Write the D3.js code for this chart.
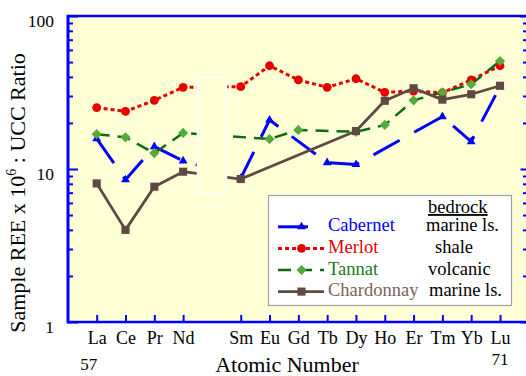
<!DOCTYPE html>
<html>
<head>
<meta charset="utf-8">
<script src="https://cdn.jsdelivr.net/npm/d3@7/dist/d3.min.js"></script>
<style>
  html, body { margin: 0; padding: 0; background: #ffffff; }
  svg { display: block; }
  svg text { font-family: "Liberation Serif", "Times New Roman", Times, Tinos, "DejaVu Serif", "Noto Serif", serif; }
</style>
</head>
<body>
<svg id="chart" width="526" height="376"></svg>
<script>
// Rare earth elements (Pm, 61, is not measured)
const elements = ["La", "Ce", "Pr", "Nd", "Sm", "Eu", "Gd", "Tb", "Dy", "Ho", "Er", "Tm", "Yb", "Lu"];
const atomicNumbers = [57, 58, 59, 60, 62, 63, 64, 65, 66, 67, 68, 69, 70, 71];

// Sample REE x 10^6 : UCC ratio for each wine (null = not reported)
const cabernet   = [15.8, 8.5, 14.0, 11.3, 8.7, 20.9, null, 11.0, 10.7, null, null, 22.0, 15.1, 34.5];
const merlot     = [25.2, 23.8, 28.1, 34.2, 34.5, 47.3, 38.2, 34.2, 38.9, 31.7, 32.3, 31.5, 38.2, 47.3];
const tannat     = [16.9, 16.1, 12.7, 17.2, null, 15.7, 18.0, null, 17.5, 19.4, 28.1, 31.7, 35.8, 50.8];
const chardonnay = [8.05, 4.0, 7.66, 9.6, 8.6, null, null, null, 17.7, 27.9, 33.7, 28.4, 30.8, 35.0];

const seriesNames = ["Cabernet", "Merlot", "Tannat", "Chardonnay"];
const bedrock = ["marine ls.", "shale", "volcanic", "marine ls."];

const yMajorTicks = [1, 10, 100];
const yMinorTicks = [2, 3, 4, 5, 6, 7, 8, 9, 20, 30, 40, 50, 60, 70, 80, 90];

// Plot frame
const frame = { left: 68, right: 527, top: 16, bottom: 322 };
const axisBlue = "#0000ff";
const plotBg = "#ffffd6";
const serif = '"Liberation Serif", "Times New Roman", Times, Tinos, "DejaVu Serif", serif';

const svg = d3.select("#chart");

const x = d3.scaleLinear().domain([57, 71]).range([96.7, 500]);
const y = d3.scaleLog().domain([1, 100]).range([frame.bottom, frame.top]);

// Plot background
svg.append("rect")
  .attr("x", frame.left).attr("y", frame.top)
  .attr("width", frame.right - frame.left)
  .attr("height", frame.bottom - frame.top)
  .attr("fill", plotBg);

// Styles per series
const styles = [
  { name: "Cabernet",   values: cabernet,   line: "#0000ff", width: 3,   dash: "30,16.5", symbol: "triangle", fill: "#0000ff", text: "#0000ff" },
  { name: "Merlot",     values: merlot,     line: "#e60000", width: 3,   dash: "4,3",     symbol: "circle",   fill: "#e60000", text: "#e60000" },
  { name: "Tannat",     values: tannat,     line: "#0c6a14", width: 2.5, dash: "13,8",    symbol: "diamond",  fill: "#55ab3a", text: "#1b7a1b" },
  { name: "Chardonnay", values: chardonnay, line: "#5e4943", width: 2.8, dash: null,      symbol: "square",   fill: "#5e4943", text: "#7a625b" }
];

function symbolPath(kind) {
  if (kind === "triangle") return d3.symbol(d3.symbolTriangle, 34)();
  if (kind === "circle") return d3.symbol(d3.symbolCircle, Math.PI * 4.4 * 4.4)();
  if (kind === "diamond") return d3.symbol(d3.symbolSquare, 52)();
  return d3.symbol(d3.symbolSquare, 66)();
}
function symbolTransform(kind, px, py) {
  return kind === "diamond" ? `translate(${px},${py}) rotate(45)` : `translate(${px},${py})`;
}

const line = d3.line().x(d => x(d.z)).y(d => y(d.v));

const seriesData = styles.map(s => ({
  ...s,
  points: s.values.map((v, i) => ({ z: atomicNumbers[i], v })).filter(d => d.v != null)
}));

// Lines
const linesG = svg.append("g");
seriesData.forEach(s => {
  linesG.append("path")
    .datum(s.points)
    .attr("d", line)
    .attr("fill", "none")
    .attr("stroke", s.line)
    .attr("stroke-width", s.width)
    .attr("stroke-dasharray", s.dash)
    .attr("stroke-linejoin", "round");
});

// Box marking the missing Pm position
svg.append("rect")
  .attr("x", x(61) - 14.5).attr("y", y(40))
  .attr("width", 29).attr("height", y(7) - y(40))
  .attr("fill", plotBg)
  .attr("stroke", "#ffffff").attr("stroke-width", 1.6);

// Markers
seriesData.forEach(s => {
  svg.append("g").selectAll("path")
    .data(s.points)
    .join("path")
    .attr("d", symbolPath(s.symbol))
    .attr("transform", d => symbolTransform(s.symbol, x(d.z), y(d.v)))
    .attr("fill", s.fill);
});

// Y axis (left): ticks pointing inward
const yAxisMajor = d3.axisLeft(y).tickValues(yMajorTicks).tickSize(-10).tickPadding(14)
  .tickFormat(d3.format("d"));
const gyL = svg.append("g").attr("transform", `translate(${frame.left},0)`).call(yAxisMajor);
gyL.attr("font-family", serif);
gyL.select(".domain").remove();
gyL.selectAll(".tick line").attr("stroke", axisBlue).attr("stroke-width", 2);
gyL.selectAll(".tick text").attr("font-size", 17.5).attr("fill", "#000").attr("dy", "0.6em");

const gyLm = svg.append("g").attr("transform", `translate(${frame.left},0)`)
  .call(d3.axisLeft(y).tickValues(yMinorTicks).tickSize(-5).tickFormat(""));
gyLm.select(".domain").remove();
gyLm.selectAll(".tick line").attr("stroke", axisBlue).attr("stroke-width", 2);

// Right side ticks
const gyR = svg.append("g").attr("transform", `translate(${frame.right},0)`)
  .call(d3.axisRight(y).tickValues(yMajorTicks).tickSize(-6.5).tickFormat(""));
gyR.select(".domain").remove();
gyR.selectAll(".tick line").attr("stroke", axisBlue).attr("stroke-width", 2);
const gyRm = svg.append("g").attr("transform", `translate(${frame.right},0)`)
  .call(d3.axisRight(y).tickValues(yMinorTicks).tickSize(-4).tickFormat(""));
gyRm.select(".domain").remove();
gyRm.selectAll(".tick line").attr("stroke", axisBlue).attr("stroke-width", 2);

// X axis: element symbols
const xAxis = d3.axisBottom(x).tickValues(atomicNumbers).tickSize(-7).tickPadding(9.5)
  .tickFormat((d, i) => elements[i]);
const gx = svg.append("g").attr("transform", `translate(0,${frame.bottom})`).call(xAxis);
gx.attr("font-family", serif);
gx.select(".domain").remove();
gx.selectAll(".tick line").attr("stroke", axisBlue).attr("stroke-width", 2);
gx.selectAll(".tick text").attr("font-size", 18).attr("fill", "#000");

// Frame lines
svg.append("line").attr("x1", frame.left).attr("x2", frame.right)
  .attr("y1", frame.top).attr("y2", frame.top)
  .attr("stroke", axisBlue).attr("stroke-width", 2.5);
svg.append("line").attr("x1", frame.left - 1).attr("x2", frame.right)
  .attr("y1", frame.bottom).attr("y2", frame.bottom)
  .attr("stroke", axisBlue).attr("stroke-width", 2.5);
svg.append("line").attr("x1", frame.left).attr("x2", frame.left)
  .attr("y1", frame.top - 1.2).attr("y2", frame.bottom + 1.2)
  .attr("stroke", axisBlue).attr("stroke-width", 3);

// Atomic number range labels
svg.append("text").attr("x", x(57) - 8).attr("y", 369.5)
  .attr("text-anchor", "middle").attr("font-size", 17).text("57");
svg.append("text").attr("x", x(71)).attr("y", 364.5)
  .attr("text-anchor", "middle").attr("font-size", 17).text("71");

// Axis titles
svg.append("text").attr("x", 287).attr("y", 371.5)
  .attr("text-anchor", "middle").attr("font-size", 22).text("Atomic Number");

const yTitle = svg.append("text")
  .attr("transform", "translate(25,193) rotate(-90)")
  .attr("text-anchor", "middle").attr("font-size", 22);
yTitle.append("tspan").text("Sample REE x 10");
yTitle.append("tspan").attr("font-size", 14).attr("dy", -9).text("6");
yTitle.append("tspan").attr("dy", 9).text(" : UCC Ratio");

// Legend
const legend = svg.append("g");
legend.append("rect")
  .attr("x", 268.5).attr("y", 195.5).attr("width", 243).attr("height", 110)
  .attr("fill", "#ffffff").attr("stroke", "#a0a0a0").attr("stroke-width", 1.2);

legend.append("text").attr("x", 428).attr("y", 213)
  .attr("font-size", 18.5).attr("text-decoration", "underline").text("bedrock");

const rowY = [226.8, 248.4, 270.0, 291.6];
const bedrockX = [426, 435, 428, 429];
seriesData.forEach((s, i) => {
  const ly = rowY[i];
  legend.append("line")
    .attr("x1", 278).attr("x2", 324).attr("y1", ly).attr("y2", ly)
    .attr("stroke", s.line).attr("stroke-width", s.width)
    .attr("stroke-dasharray", s.dash);
  legend.append("path")
    .attr("d", symbolPath(s.symbol))
    .attr("transform", symbolTransform(s.symbol, 301.5, ly))
    .attr("fill", s.fill);
  legend.append("text").attr("x", 328).attr("y", ly + 4.6)
    .attr("font-size", 18.5).attr("fill", s.text).text(seriesNames[i]);
  legend.append("text").attr("x", bedrockX[i]).attr("y", ly + 4.6)
    .attr("font-size", 18.5).attr("fill", "#000").text(bedrock[i]);
});
</script>
</body>
</html>
